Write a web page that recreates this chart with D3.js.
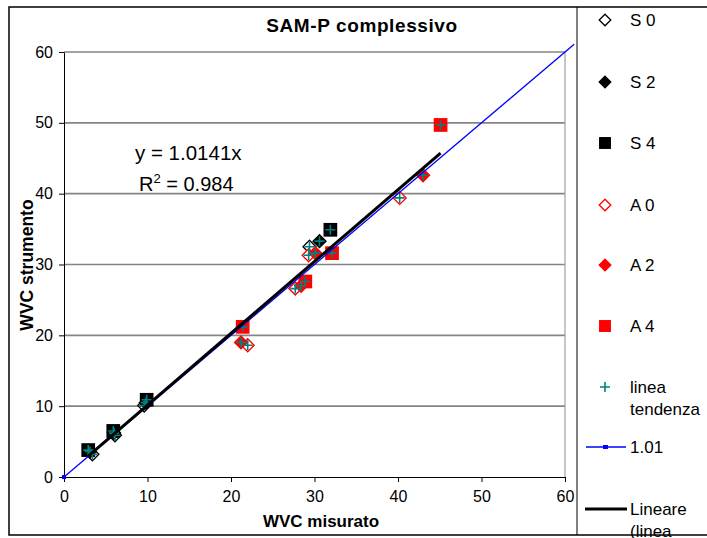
<!DOCTYPE html>
<html>
<head>
<meta charset="utf-8">
<script src="https://cdn.jsdelivr.net/npm/d3@7"></script>
<style>
  html, body { margin: 0; padding: 0; background: #fff; }
  svg { display: block; font-family: "Liberation Sans", Arial, sans-serif; }
</style>
</head>
<body>
<svg id="chart" width="707" height="538"></svg>
<script>
// Measured vs instrument WVC, by series
const s0 = [[3.4, 3.2], [6.1, 5.9], [9.6, 10.1], [29.4, 32.5]];
const s2 = [[3.1, 3.6], [6.0, 6.2], [9.8, 10.5], [30.6, 33.3]];
const s4 = [[2.9, 3.8], [5.9, 6.5], [9.9, 10.9], [31.9, 34.9]];
const a0 = [[22.0, 18.6], [29.3, 31.3], [27.7, 26.6], [40.2, 39.4]];
const a2 = [[21.2, 19.0], [30.1, 31.6], [28.4, 27.0], [43.0, 42.6]];
const a4 = [[21.4, 21.2], [32.1, 31.6], [28.9, 27.6], [45.1, 49.7]];
// Reference line ("1.01") end points
const refLine = [[0, 0], [61.1, 61.1]];
// Linear trend through origin
const slope = 1.0141;
const r2 = 0.984;
const xTicks = [0, 10, 20, 30, 40, 50, 60];
const yTicks = [0, 10, 20, 30, 40, 50, 60];
const legendLabels = ["S 0", "S 2", "S 4", "A 0", "A 2", "A 4", ["linea", "tendenza"], "1.01", ["Lineare", "(linea"]];

const svg = d3.select("#chart");
const x = d3.scaleLinear().domain([0, 60]).range([64, 565]);
const y = d3.scaleLinear().domain([0, 60]).range([477, 52]);

// outer frame and legend frame
svg.append("rect").attr("x", 9).attr("y", 7).attr("width", 720).attr("height", 528)
  .attr("fill", "none").attr("stroke", "#000").attr("stroke-width", 1.5);
svg.append("line").attr("x1", 577).attr("x2", 577).attr("y1", 7).attr("y2", 535)
  .attr("stroke", "#000").attr("stroke-width", 1);

// gridlines
svg.append("g").selectAll("line").data(yTicks.filter(d => d > 0)).join("line")
  .attr("x1", x(0)).attr("x2", x(60)).attr("y1", d => y(d)).attr("y2", d => y(d))
  .attr("stroke", "#858585").attr("stroke-width", 1.6);
svg.append("line").attr("x1", x(60)).attr("x2", x(60)).attr("y1", y(60)).attr("y2", y(0))
  .attr("stroke", "#a0a0a0").attr("stroke-width", 1.2);

// axes
const xAxis = svg.append("g").attr("transform", `translate(0,${y(0)})`)
  .call(d3.axisBottom(x).tickValues(xTicks).tickSize(5).tickSizeOuter(0).tickPadding(9));
const yAxis = svg.append("g").attr("transform", `translate(${x(0)},0)`)
  .call(d3.axisLeft(y).tickValues(yTicks).tickSize(5).tickSizeOuter(0).tickPadding(6));
[xAxis, yAxis].forEach(g => {
  g.selectAll("path,line").attr("stroke", "#000").attr("stroke-width", 1);
  g.selectAll("text").attr("font-size", 16).attr("fill", "#000")
    .attr("font-family", "'Liberation Sans', Arial, sans-serif");
});

// marker shapes
const diamond = (g, s) => g.append("path").attr("d", `M0,${-s}L${s},0L0,${s}L${-s},0Z`);
const square = (g, s) => g.append("rect").attr("x", -s).attr("y", -s).attr("width", 2 * s).attr("height", 2 * s);

const seriesDefs = [
  { data: s0, shape: diamond, size: 6.5, fill: "#fff", stroke: "#000" },
  { data: s2, shape: diamond, size: 6.5, fill: "#000", stroke: "#000" },
  { data: s4, shape: square, size: 6.2, fill: "#000", stroke: "#000" },
  { data: a0, shape: diamond, size: 6.5, fill: "#fff", stroke: "#ff0000" },
  { data: a2, shape: diamond, size: 6.5, fill: "#ff0000", stroke: "#ff0000" },
  { data: a4, shape: square, size: 6.2, fill: "#ff0000", stroke: "#ff0000" }
];

const plot = svg.append("g");
seriesDefs.forEach(sd => {
  sd.data.forEach(p => {
    const g = plot.append("g").attr("transform", `translate(${x(p[0])},${y(p[1])})`);
    sd.shape(g, sd.size).attr("fill", sd.fill).attr("stroke", sd.stroke).attr("stroke-width", 1.3);
  });
});

// trend crosses at each observation
const allPts = [].concat(s0, s2, s4, a0, a2, a4);
const cross = (g, s) => g.append("path").attr("d", `M${-s},0H${s}M0,${-s}V${s}`)
  .attr("stroke", "#008080").attr("stroke-width", 1.6).attr("fill", "none");
allPts.forEach(p => {
  cross(plot.append("g").attr("transform", `translate(${x(p[0])},${y(p[1])})`), 5);
});

// reference line
const line = d3.line().x(d => x(d[0])).y(d => y(d[1]));
svg.append("path").datum(refLine).attr("d", line)
  .attr("fill", "none").attr("stroke", "#0000ff").attr("stroke-width", 1.3);
svg.append("rect").attr("x", x(0) - 2).attr("y", y(0) - 2).attr("width", 4).attr("height", 4).attr("fill", "#0000ff");

// linear trend over the data range
const xs = allPts.map(p => p[0]);
const trend = d3.extent(xs).map(v => [v, slope * v]);
svg.append("path").datum(trend).attr("d", line)
  .attr("fill", "none").attr("stroke", "#000").attr("stroke-width", 3);

// equation
svg.append("text").attr("x", 135).attr("y", 160).attr("font-size", 20.5).text(`y = ${slope}x`);
const rt = svg.append("text").attr("x", 139).attr("y", 191).attr("font-size", 20);
rt.append("tspan").text("R");
rt.append("tspan").attr("dy", -8).attr("font-size", 13).text("2");
rt.append("tspan").attr("dy", 8).text(` = ${r2}`);

// titles
svg.append("text").attr("x", 362).attr("y", 32).attr("text-anchor", "middle")
  .attr("font-size", 19).attr("font-weight", "bold").attr("letter-spacing", 0.6).text("SAM-P complessivo");
svg.append("text").attr("x", 321).attr("y", 527).attr("text-anchor", "middle")
  .attr("font-size", 17).attr("font-weight", "bold").text("WVC misurato");
svg.append("text").attr("transform", "translate(33,265) rotate(-90)").attr("text-anchor", "middle")
  .attr("font-size", 17.5).attr("font-weight", "bold").text("WVC strumento");

// legend
const legY = [20, 82, 143, 205, 265, 326, 387, 447, 509];
const leg = svg.append("g");
legendLabels.forEach((lab, i) => {
  const g = leg.append("g").attr("transform", `translate(0,${legY[i]})`);
  const m = g.append("g").attr("transform", "translate(605,0)");
  if (i < 6) {
    const sd = seriesDefs[i];
    sd.shape(m, sd.shape === square ? 5.3 : 5.8).attr("fill", sd.fill).attr("stroke", sd.stroke).attr("stroke-width", 1.3);
  } else if (i === 6) {
    cross(m, 5);
  } else if (i === 7) {
    g.append("line").attr("x1", 586).attr("x2", 626).attr("y1", 0).attr("y2", 0)
      .attr("stroke", "#0000ff").attr("stroke-width", 1.3);
    g.append("rect").attr("x", 603).attr("y", -2).attr("width", 5).attr("height", 4).attr("fill", "#0000ff");
  } else {
    g.append("line").attr("x1", 585).attr("x2", 627).attr("y1", 0).attr("y2", 0)
      .attr("stroke", "#000").attr("stroke-width", 3);
  }
  const t = g.append("text").attr("x", 630).attr("y", 6).attr("font-size", 17);
  const lines = Array.isArray(lab) ? lab : [lab];
  lines.forEach((s, k) => t.append("tspan").attr("x", 630).attr("dy", k ? 22 : 0).text(s));
});
</script>
</body>
</html>
